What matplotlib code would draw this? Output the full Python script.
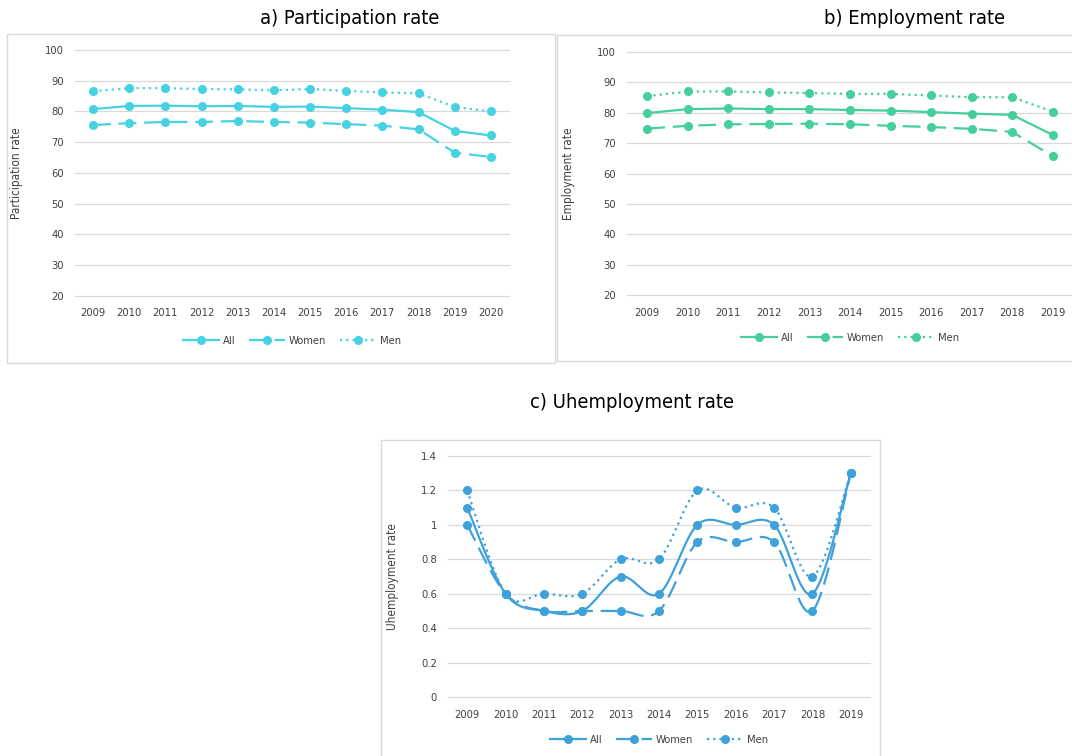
import numpy as np
import matplotlib
matplotlib.use('Agg')
import matplotlib.pyplot as plt
from matplotlib.patches import Rectangle

plt.rcParams['font.family'] = ['DejaVu Sans']
plt.rcParams['font.stretch'] = 'condensed'

years_a = list(range(2009, 2021))
part_all = [80.8, 81.8, 81.9, 81.7, 81.8, 81.5, 81.6, 81.1, 80.6, 79.8, 73.7, 72.2]
part_women = [75.6, 76.2, 76.6, 76.6, 76.9, 76.6, 76.4, 75.9, 75.4, 74.2, 66.6, 65.2]
part_men = [86.6, 87.6, 87.6, 87.3, 87.2, 86.9, 87.3, 86.7, 86.2, 85.9, 81.5, 80.0]

years_b = list(range(2009, 2020))
emp_all = [79.9, 81.2, 81.4, 81.2, 81.2, 80.9, 80.7, 80.2, 79.7, 79.3, 72.7]
emp_women = [74.8, 75.7, 76.2, 76.3, 76.4, 76.2, 75.7, 75.3, 74.7, 73.7, 65.7]
emp_men = [85.5, 87.0, 87.0, 86.7, 86.5, 86.2, 86.2, 85.7, 85.1, 85.1, 80.4]

years_c = list(range(2009, 2020))
unemp_all = [1.1, 0.6, 0.5, 0.5, 0.7, 0.6, 1.0, 1.0, 1.0, 0.6, 1.3]
unemp_women = [1.0, 0.6, 0.5, 0.5, 0.5, 0.5, 0.9, 0.9, 0.9, 0.5, 1.3]
unemp_men = [1.2, 0.6, 0.6, 0.6, 0.8, 0.8, 1.2, 1.1, 1.1, 0.7, 1.3]

W, H = 1072, 756
fig = plt.figure(figsize=(W / 100, H / 100), dpi=100)


def px(l, t, r, b):
    return [l / W, 1 - b / H, (r - l) / W, (b - t) / H]


def smooth(x, y, n=30):
    # excel-like smoothed line (catmull-rom as bezier)
    x = np.asarray(x, float)
    y = np.asarray(y, float)
    P = np.column_stack([x, y])
    P = np.vstack([P[0], P, P[-1]])
    out = []
    t = np.linspace(0, 1, n)[:, None]
    for i in range(1, len(P) - 2):
        p0, p1, p2, p3 = P[i - 1], P[i], P[i + 1], P[i + 2]
        c1 = p1 + (p2 - p0) / 6
        c2 = p2 - (p3 - p1) / 6
        seg = (1 - t) ** 3 * p1 + 3 * (1 - t) ** 2 * t * c1 + 3 * (1 - t) * t ** 2 * c2 + t ** 3 * p2
        out.append(seg)
    s = np.vstack(out)
    return s[:, 0], s[:, 1]


def panel(box, axbox, title, tpos, years, series, color, ylabel, ylim, yticks, yfmt, leg_y, smooth_it=False):
    fig.patches.append(Rectangle((box[0] / W, 1 - box[3] / H), (box[2] - box[0]) / W, (box[3] - box[1]) / H,
                                 transform=fig.transFigure, fill=False, ec='#d9d9d9', lw=1))
    fig.text(tpos[0] / W, 1 - tpos[1] / H, title, ha='center', va='center', fontsize=14.5, color='black',
             fontweight='medium')
    ax = fig.add_axes(px(*axbox))
    styles = [('All', '-'), ('Women', (0, (8, 3.5))), ('Men', (0, (1, 1.8)))]
    for (lab, ls), vals in zip(styles, series):
        if smooth_it:
            sx, sy = smooth(years, vals)
            ax.plot(sx, sy, color=color, lw=1.6, ls=ls)
            ax.plot([], [], color=color, lw=1.6, ls=ls, marker='o', ms=5.5, label=lab)
            ax.plot(years, vals, 'o', color=color, ms=5.5)
        else:
            ax.plot(years, vals, color=color, lw=1.6, ls=ls, marker='o', ms=5.5, label=lab)
    ax.set_xlim(years[0] - 0.5, years[-1] + 0.5)
    ax.set_ylim(*ylim)
    ax.set_yticks(yticks)
    ax.set_yticklabels([yfmt(v) for v in yticks])
    ax.set_xticks(years)
    ax.set_xticklabels([str(y) for y in years])
    ax.tick_params(length=0, labelsize=8, colors='#404040', pad=8)
    ax.tick_params(axis='x', pad=9)
    for s in ax.spines.values():
        s.set_visible(False)
    ax.grid(axis='y', color='#d9d9d9', lw=0.9)
    for gl in ax.get_ygridlines():
        gl.set_clip_on(False)
    ax.set_axisbelow(True)
    ax.set_ylabel(ylabel, fontsize=8.5, color='#404040', labelpad=16)
    ax.legend(loc='center', bbox_to_anchor=(0.5, 1 - (leg_y - axbox[1]) / (axbox[3] - axbox[1])), ncol=3,
              frameon=False, fontsize=8, handlelength=3.2, columnspacing=1.2, handletextpad=0.4,
              labelcolor='#404040')
    return ax


panel((7, 34, 555, 363), (75, 50, 509, 296), 'a) Participation rate', (350, 19), years_a,
      [part_all, part_women, part_men], '#46D2E0', 'Participation rate', (20, 100),
      list(range(20, 101, 10)), lambda v: str(v), 341)

panel((557, 35, 1080, 361), (627, 52, 1073, 295), 'b) Employment rate', (915, 19), years_b,
      [emp_all, emp_women, emp_men], '#45CF9B', 'Employment rate', (20, 100),
      list(range(20, 101, 10)), lambda v: str(v), 338)

panel((381, 440, 880, 760), (448, 456, 870, 697), 'c) Uhemployment rate', (632, 402), years_c,
      [unemp_all, unemp_women, unemp_men], '#3EA1DA', 'Uhemployment rate', (0, 1.4),
      [0, 0.2, 0.4, 0.6, 0.8, 1.0, 1.2, 1.4], lambda v: '%g' % v, 740, smooth_it=True)

fig.savefig('out.png', dpi=100)
